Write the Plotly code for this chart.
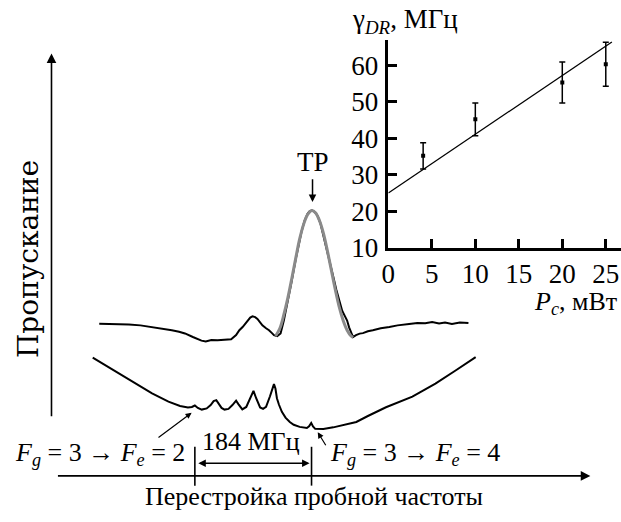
import plotly.graph_objects as go

FONT = "Liberation Serif, Times New Roman, serif"

# ---------------- main schematic (arbitrary units) ----------------
upper_x = [93.3, 110, 123.3, 135, 146.7, 157, 166.7, 174, 180, 188, 196.7, 201, 206.7, 213, 220, 226.7, 231.7,
           235, 238.3, 241, 243.3, 246, 248.3, 251, 253.3, 256, 258.3, 262, 265, 268, 270, 273.3, 276.7,
           280, 284, 288, 292, 295, 298, 301, 304, 306, 308.3, 311, 314, 317, 320, 323, 325, 327, 330,
           333, 336, 339, 342, 344, 346, 348, 350, 353, 356.7, 360, 365, 370, 378, 386.7, 395, 406.7,
           415, 423, 430, 437, 443, 450, 458, 466.7]
upper_y = [333.3, 333.6, 334, 335, 336.7, 338, 340, 341.5, 343.3, 347, 350.7, 351.5, 350, 350.3, 349.5, 349.3, 345,
           340, 336.7, 333, 330, 327, 325.7, 326.5, 328.3, 332, 335, 338, 340, 343, 345, 346, 343.3,
           330, 311, 289, 267, 252, 238, 227, 220, 217.5, 216.5, 218, 222, 230, 242, 255, 262, 272, 285,
           298, 310, 320, 326, 330, 337, 343, 347, 345, 343.5, 343, 341, 340, 338, 336.7, 335, 333.5,
           332.5, 332.7, 331.5, 333, 332, 333.5, 332, 332.5]

peakfit_x = [271.7, 276, 280, 284, 288, 292, 296, 300, 304, 308.3, 312, 316, 320, 324, 328, 332, 336, 340, 344, 348, 350]
peakfit_y = [346, 338, 324, 307, 287, 266, 246, 231, 221, 216.7, 219, 227, 240, 258, 278, 298, 316, 330, 340, 346, 347.5]

lower_x = [86.7, 100, 113.3, 130, 146.7, 163.3, 175, 183, 187, 190, 193, 197, 202, 206, 209, 211.7, 214, 217,
           220, 224, 228, 231.7, 234, 238, 242, 246, 249.3, 252, 256, 259, 262, 266, 268.5, 270, 271.5,
           273, 275, 278, 281.7, 286, 290, 296, 303.3, 305.5, 307.7, 309.5, 311.7, 320, 330, 336.7, 345,
           353.3, 365, 383.3, 410, 433.3, 453.3, 474]
lower_y = [368.3, 376.5, 385, 395.5, 405, 413.5, 418, 419.5, 419, 417.5, 420, 421.7, 420.5, 417, 413, 412, 415, 420,
           421.7, 421, 417, 412.5, 416, 421.5, 419, 410, 402.5, 410, 419.5, 421, 419, 408, 399, 395.5, 400,
           410, 416.5, 424, 430, 434.5, 437.3, 439.5, 440.7, 439, 435.5, 439, 441.5, 441.7, 440, 438.3, 436.5,
           434.5, 428.3, 419.3, 408.3, 395, 381.7, 367.7]

transition_x = [190, 308]   # F_e=2 and F_e=4 markers

# ---------------- inset data ----------------
power = [4, 10, 20, 25]
gamma = [35.2, 45.2, 55.3, 60.3]
gamma_err = [3.6, 4.5, 5.6, 6.0]
fit_x = [0, 25.7]
fit_y = [25, 66.4]
inset_xticks = [0, 5, 10, 15, 20, 25]
inset_yticks = [10, 20, 30, 40, 50, 60]

fig = go.Figure()

fig.add_trace(go.Scatter(x=lower_x, y=lower_y, mode="lines",
                         line=dict(color="black", width=2), xaxis="x", yaxis="y"))
fig.add_trace(go.Scatter(x=upper_x, y=upper_y, mode="lines",
                         line=dict(color="black", width=2), xaxis="x", yaxis="y"))
fig.add_trace(go.Scatter(x=peakfit_x, y=peakfit_y, mode="lines", line_shape="spline",
                         line=dict(color="#8a8a8a", width=3), xaxis="x", yaxis="y"))

# transition marker ticks
tx, ty = [], []
for v in transition_x:
    tx += [v, v, None]
    ty += [460, 500, None]
fig.add_trace(go.Scatter(x=tx, y=ty, mode="lines", line=dict(color="black", width=1.6),
                         xaxis="x", yaxis="y"))

# inset
fig.add_trace(go.Scatter(x=fit_x, y=fit_y, mode="lines", line=dict(color="black", width=1.3),
                         xaxis="x2", yaxis="y2"))
fig.add_trace(go.Scatter(x=power, y=gamma, mode="markers",
                         marker=dict(symbol="square", size=4, color="black"),
                         error_y=dict(type="data", array=gamma_err, visible=True,
                                      color="black", thickness=1.5, width=3),
                         xaxis="x2", yaxis="y2"))

anns = []
def arrow(x, y, ax, ay, head=2, side="end", size=1.0, width=1.5):
    anns.append(dict(x=x, y=y, ax=ax, ay=ay, xref="x", yref="y", axref="x", ayref="y",
                     showarrow=True, arrowhead=head, arrowside=side, arrowsize=size,
                     arrowwidth=width, arrowcolor="black", text=""))

def text(x, y, s, size=26, xanchor="center", angle=0, family=FONT):
    anns.append(dict(x=x, y=y, xref="x", yref="y", text=s, showarrow=False,
                     xanchor=xanchor, yanchor="middle", textangle=angle,
                     font=dict(family=family, size=size, color="black")))

# axes arrows
arrow(45, 55, 45, 430, head=2, size=1.2, width=1.6)
arrow(590, 490, 50, 490, head=2, size=1.2, width=1.6)
# double arrow 184 MHz
arrow(306, 477, 192, 477, head=2, side="end+start", size=1.0, width=1.5)
# pointers
arrow(186.7, 425, 151.7, 451.7, head=2, size=1.0, width=1.2)
arrow(314.3, 445, 323.3, 460, head=2, size=1.0, width=1.2)
# TP arrow
arrow(309, 208, 309, 183, head=2, size=1.0, width=1.5)

text(22, 267, "Пропускание", size=28, angle=-90, family="DejaVu Serif, Liberation Serif, serif")
text(311, 511, "Перестройка пробной частоты", size=26)
text(247, 455, "184 МГц", size=26)
text(6, 467, "<i>F</i><sub><i>g</i></sub> = 3 → <i>F</i><sub><i>e</i></sub> = 2", size=26, xanchor="left")
text(325, 467, "<i>F</i><sub><i>g</i></sub> = 3 → <i>F</i><sub><i>e</i></sub> = 4", size=26, xanchor="left")
text(309, 167, "ТР", size=27)
text(347, 22, "γ<sub><i>DR</i></sub>, МГц", size=27, xanchor="left")
text(619, 312, "<i>P</i><sub><i>c</i></sub>, мВт", size=26, xanchor="right")

axis_common = dict(showline=True, linecolor="black", linewidth=2.5, ticks="inside",
                   ticklen=9, tickwidth=2.5, tickcolor="black", showgrid=False, zeroline=False,
                   tickfont=dict(family=FONT, size=27, color="black"))

fig.update_layout(
    width=621, height=522,
    margin=dict(l=0, r=0, t=0, b=0),
    font=dict(family=FONT, color="black"),
    paper_bgcolor="white", plot_bgcolor="rgba(0,0,0,0)",
    showlegend=False,
    xaxis=dict(domain=[0, 1], range=[0, 621], visible=False, fixedrange=True),
    yaxis=dict(domain=[0, 1], range=[522, 0], visible=False, fixedrange=True),
    xaxis2=dict(domain=[385.7 / 621, 1], range=[0, 26.75], anchor="y2",
                tickvals=inset_xticks, ticklabelstandoff=0, **axis_common),
    yaxis2=dict(domain=[(522 - 255) / 522, (522 - 41) / 522], range=[10, 67], anchor="x2",
                tickvals=inset_yticks, ticklabelstandoff=2, **axis_common),
    annotations=anns,
)

fig.write_html("out.html")
